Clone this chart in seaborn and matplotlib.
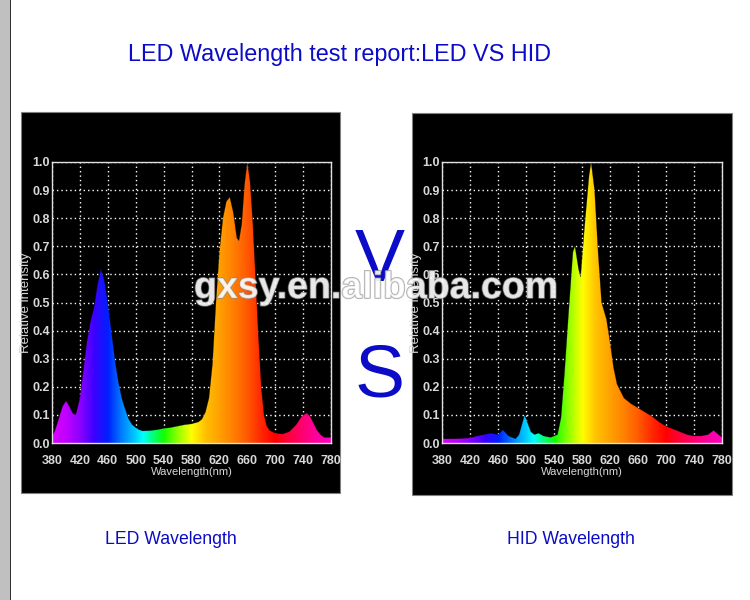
import numpy as np
import pandas as pd
import matplotlib
matplotlib.use("Agg")
import matplotlib.pyplot as plt
import seaborn as sns
from matplotlib.colors import LinearSegmentedColormap, Normalize
from matplotlib.patches import Rectangle
import matplotlib.patheffects as pe

# ---------------- data ----------------
led_wavelength = [380, 385, 390, 395, 400, 405, 410, 414, 420, 425, 430, 435, 440, 445,
                  450, 455, 460, 465, 470, 475, 480, 485, 490, 495, 500, 505, 510, 520,
                  530, 540, 550, 560, 570, 580, 590, 595, 600, 605, 610, 615, 620, 625,
                  630, 635, 640, 645, 648, 652, 656, 660, 664, 668, 672, 676, 680, 684,
                  688, 692, 700, 710, 720, 730, 738, 745, 750, 755, 760, 765, 770, 780]
led_intensity = [0.02, 0.05, 0.09, 0.13, 0.15, 0.13, 0.105, 0.10, 0.16, 0.26, 0.36, 0.43,
                 0.48, 0.56, 0.62, 0.58, 0.50, 0.40, 0.30, 0.22, 0.16, 0.12, 0.085, 0.065,
                 0.055, 0.047, 0.043, 0.044, 0.047, 0.052, 0.055, 0.060, 0.065, 0.068,
                 0.075, 0.085, 0.11, 0.16, 0.28, 0.50, 0.68, 0.80, 0.86, 0.875, 0.82,
                 0.73, 0.72, 0.78, 0.92, 1.0, 0.93, 0.78, 0.58, 0.38, 0.20, 0.10, 0.06,
                 0.045, 0.035, 0.032, 0.04, 0.065, 0.095, 0.107, 0.095, 0.07, 0.045,
                 0.03, 0.02, 0.02]

hid_wavelength = [380, 400, 420, 430, 440, 450, 460, 467, 475, 485, 490, 498, 507, 512,
                  518, 525, 535, 545, 550, 555, 561, 567, 570, 575, 578, 583, 590, 593,
                  598, 603, 608, 615, 620, 625, 630, 640, 650, 660, 670, 680, 690, 700,
                  710, 720, 730, 740, 750, 760, 768, 775, 780]
hid_intensity = [0.015, 0.015, 0.018, 0.025, 0.03, 0.035, 0.03, 0.047, 0.025, 0.015, 0.03,
                 0.10, 0.04, 0.03, 0.035, 0.025, 0.02, 0.03, 0.09, 0.25, 0.47, 0.68,
                 0.70, 0.62, 0.59, 0.75, 0.95, 1.0, 0.90, 0.68, 0.50, 0.44, 0.36, 0.27,
                 0.21, 0.16, 0.14, 0.125, 0.11, 0.095, 0.075, 0.06, 0.05, 0.04, 0.03,
                 0.025, 0.025, 0.03, 0.045, 0.03, 0.02]

x_ticks = [380, 420, 460, 500, 540, 580, 620, 660, 700, 740, 780]
y_ticks = [0.0, 0.1, 0.2, 0.3, 0.4, 0.5, 0.6, 0.7, 0.8, 0.9, 1.0]

title_text = "LED Wavelength test report:LED VS HID"
panel_labels = ["LED Wavelength", "HID Wavelength"]
xlabel_text = "Wavelength(nm)"
ylabel_text = "Relative intensity"
watermark_text = "gxsy.en.alibaba.com"

# ---------------- style ----------------
sns.set_theme(style="white")
plt.rcParams["font.family"] = ["Liberation Sans", "DejaVu Sans"]

spectrum_cmap = LinearSegmentedColormap.from_list(
    "spectrum",
    [(0.000, "#d800ff"), (0.050, "#c000ff"), (0.100, "#8a00ff"), (0.150, "#3a00ff"),
     (0.200, "#0020ff"), (0.250, "#0080ff"), (0.300, "#00d0ff"), (0.325, "#00ffff"),
     (0.350, "#00ffa0"), (0.400, "#10ff00"), (0.450, "#90ff00"), (0.500, "#ffff00"),
     (0.550, "#ffc000"), (0.600, "#ffa000"), (0.650, "#ff8000"), (0.700, "#ff5a00"),
     (0.750, "#ff2800"), (0.800, "#ff0000"), (0.850, "#ff0040"), (0.900, "#ff0070"),
     (0.950, "#ff00a0"), (1.000, "#ff00c0")])

fig = plt.figure(figsize=(7.5, 6), dpi=100)
fig.patch.set_facecolor("white")

# left grey border strip
fig.add_artist(Rectangle((0, 0), 10 / 750, 1, transform=fig.transFigure,
                         facecolor="#c0c0c0", edgecolor="none", zorder=-10))
fig.add_artist(Rectangle((10 / 750, 0), 1.2 / 750, 1, transform=fig.transFigure,
                         facecolor="#303030", edgecolor="none", zorder=-10))

# black panels
for (l, b, w, h) in [(21 / 750, 1 - 493 / 600, 319 / 750, 381 / 600),
                     (412 / 750, 1 - 495 / 600, 320 / 750, 382 / 600)]:
    fig.add_artist(Rectangle((l, b), w, h, transform=fig.transFigure,
                             facecolor="black", edgecolor="#808080", linewidth=0.8,
                             zorder=-10))

light = "#d8d8d8"
axes_rects = [(52 / 750, 1 - 443 / 600, 279 / 750, 281 / 600),
              (442 / 750, 1 - 443 / 600, 280 / 750, 281 / 600)]
series = [(led_wavelength, led_intensity), (hid_wavelength, hid_intensity)]

for rect, (wl, inten) in zip(axes_rects, series):
    ax = fig.add_axes(rect)
    ax.set_facecolor("black")
    df = pd.DataFrame({"wavelength": wl, "intensity": inten})
    poly = ax.fill_between(df["wavelength"], df["intensity"], 0, color="none", linewidth=0)
    grad = np.linspace(380, 780, 800).reshape(1, -1)
    im = ax.imshow(grad, cmap=spectrum_cmap, norm=Normalize(380, 780),
                   extent=[380, 780, 0, 1], aspect="auto", origin="lower",
                   interpolation="bilinear", zorder=2)
    im.set_clip_path(poly.get_paths()[0], transform=ax.transData)
    sns.lineplot(data=df, x="wavelength", y="intensity", ax=ax, color="black",
                 linewidth=0.4, alpha=0.4, zorder=3)
    ax.set_xlim(380, 780)
    ax.set_ylim(0, 1)
    ax.set_xticks(x_ticks)
    ax.set_yticks(y_ticks)
    ax.set_yticklabels([f"{v:.1f}" for v in y_ticks])
    ax.grid(True, color="white", linestyle=(0, (1, 2.2)), linewidth=1.0, zorder=1)
    ax.set_axisbelow(True)
    ax.tick_params(axis="both", colors=light, labelsize=9, length=0)
    ax.tick_params(axis="x", pad=8.5)
    ax.tick_params(axis="y", pad=1.5)
    for lab in ax.get_xticklabels() + ax.get_yticklabels():
        lab.set_fontweight("bold")
    for sp in ax.spines.values():
        sp.set_color("#e0e0e0")
        sp.set_linewidth(1.0)
        sp.set_zorder(4)
    ax.set_xlabel(xlabel_text, color=light, fontsize=8, labelpad=0)
    ax.set_ylabel(ylabel_text, color=light, fontsize=9.5, labelpad=0)

# texts
blue = "#0b0bc8"
fig.text(340 / 750, 1 - 55 / 600, title_text, ha="center", va="center",
         color=blue, fontsize=16.8)
fig.text(171 / 750, 1 - 539 / 600, panel_labels[0], ha="center", va="center",
         color=blue, fontsize=12.7)
fig.text(571 / 750, 1 - 539 / 600, panel_labels[1], ha="center", va="center",
         color=blue, fontsize=12.7)
fig.text(380 / 750, 1 - 261 / 600, "V", ha="center", va="center",
         color=blue, fontsize=54)
fig.text(380 / 750, 1 - 377 / 600, "S", ha="center", va="center",
         color=blue, fontsize=54)
fig.text(376 / 750, 1 - 288 / 600, watermark_text, ha="center", va="center",
         color="white", alpha=0.7, fontsize=27, fontweight="bold", zorder=10,
         path_effects=[pe.withStroke(linewidth=1.2, foreground="#8a8a8a")])

fig.savefig("out.png", dpi=100)
